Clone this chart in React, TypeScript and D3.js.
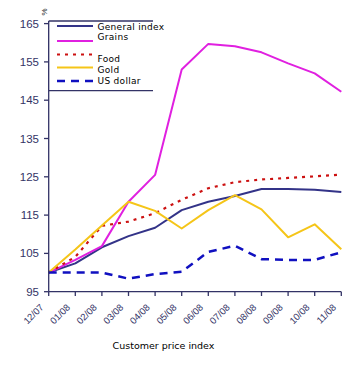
import React from "react";
import * as d3 from "d3";

const months = ["12/07", "01/08", "02/08", "03/08", "04/08", "05/08", "06/08", "07/08", "08/08", "09/08", "10/08", "11/08"];
const generalIndex = [100, 102.4, 106.6, 109.5, 111.7, 116.3, 118.5, 120, 121.8, 121.8, 121.6, 121];
const grains = [100, 103.3, 106.9, 118.5, 125.5, 153, 159.7, 159.1, 157.5, 154.6, 152, 147.2];
const food = [100, 104.1, 112.2, 113.3, 115.5, 119, 122, 123.6, 124.3, 124.7, 125.1, 125.6];
const gold = [100, 106, 112.3, 118.5, 116.1, 111.5, 116.3, 120.2, 116.5, 109.2, 112.6, 106.1];
const usDollar = [100, 100, 100, 98.4, 99.6, 100.2, 105.4, 107, 103.5, 103.3, 103.3, 105.3];
const yTicks = [95, 105, 115, 125, 135, 145, 155, 165];

const seriesNames = ["General index", "Grains", "Food", "Gold", "US dollar"];
const seriesData = [generalIndex, grains, food, gold, usDollar];
const seriesColors = ["#333388", "#e020e0", "#cc1111", "#f5c518", "#1010c0"];
const seriesDash = [null, null, "3,5", null, "8,6"];
const seriesWidth = [2, 2, 2.2, 2, 2.5];

export default function App() {
  const W = 347, H = 372;
  const x = d3.scalePoint<string>().domain(months).range([48.7, 341.3]);
  const y = d3.scaleLinear().domain([95, 165]).range([291.7, 23.6]);
  const line = d3.line<number>().x((_, i) => x(months[i]) as number).y((d) => y(d));
  const axisColor = "#333366";
  const legendY = [26, 41, 54.5, 67.5, 81];
  const legendTextY = [30, 40, 62, 73, 84];
  return (
    <svg width={W} height={H} style={{ position: "absolute", left: 0, top: 0, background: "#fff" }}>
      {seriesData.map((d, i) => (
        <path key={i} d={line(d) || ""} fill="none" stroke={seriesColors[i]} strokeWidth={seriesWidth[i]}
          strokeDasharray={seriesDash[i] || undefined} strokeLinejoin="round" />
      ))}
      <line x1={48.7} x2={48.7} y1={21} y2={291.7} stroke={axisColor} strokeWidth={1.3} />
      {yTicks.map((t) => (
        <g key={t}>
          <line x1={44} x2={48.7} y1={y(t)} y2={y(t)} stroke={axisColor} strokeWidth={1.3} />
          <text x={39} y={y(t) + 4} textAnchor="end" fontFamily="Liberation Sans, Arial, sans-serif" fontSize={11.5} fill="#333366">{t}</text>
        </g>
      ))}
      <text transform="translate(47,12) rotate(-90)" textAnchor="middle" fontFamily="Liberation Sans, Arial, sans-serif" fontSize={8} fill="#222">%</text>
      <line x1={48.7} x2={341.3} y1={291.7} y2={291.7} stroke={axisColor} strokeWidth={1.3} />
      {months.map((m) => (
        <g key={m}>
          <line x1={x(m)} x2={x(m)} y1={291.7} y2={296} stroke={axisColor} strokeWidth={1.3} />
          <text transform={`translate(${(x(m) as number) - 4.5},${308}) rotate(-45)`} textAnchor="end"
            fontFamily="Liberation Sans, Arial, sans-serif" fontSize={9.5} fill="#333366">{m}</text>
        </g>
      ))}
      <text x={163.5} y={349} textAnchor="middle" fontFamily="DejaVu Sans, Verdana, sans-serif" fontSize={9.5} fill="#000">Customer price index</text>
      <rect x={48.7} y={21} width={104.5} height={69.7} fill="#fff" />
      <line x1={48.7} x2={153} y1={21} y2={21} stroke={axisColor} strokeWidth={1.3} />
      <line x1={48.7} x2={153} y1={90.7} y2={90.7} stroke={axisColor} strokeWidth={1.3} />
      <line x1={48.7} x2={48.7} y1={21} y2={90.7} stroke={axisColor} strokeWidth={1.3} />
      {seriesNames.map((n, i) => (
        <g key={n}>
          <line x1={57} x2={93} y1={legendY[i]} y2={legendY[i]} stroke={seriesColors[i]} strokeWidth={seriesWidth[i]}
            strokeDasharray={seriesDash[i] || undefined} />
          <text x={97.5} y={legendTextY[i]} fontFamily="DejaVu Sans, Verdana, sans-serif" fontSize={9} letterSpacing={0.3} fill="#000">{n}</text>
        </g>
      ))}
    </svg>
  );
}
